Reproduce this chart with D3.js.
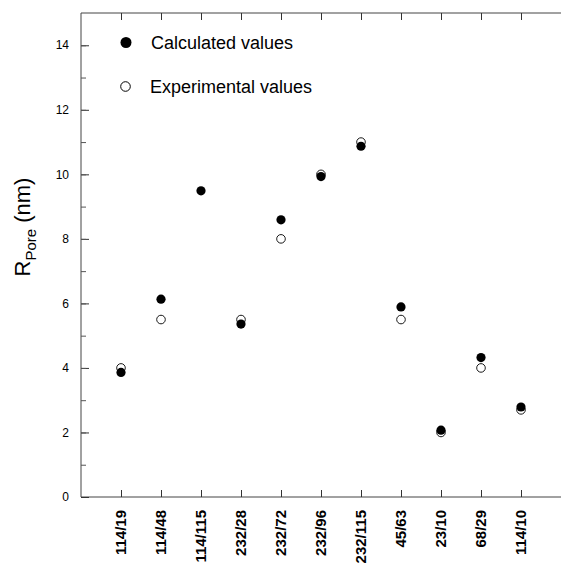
<!DOCTYPE html>
<html>
<head>
<meta charset="utf-8">
<script src="https://cdn.jsdelivr.net/npm/d3@7"></script>
<style>
  body { margin: 0; background: #fff; }
  text { font-family: "Liberation Sans", Arial, sans-serif; }
</style>
</head>
<body>
<div id="chart"></div>
<script>
// categories on the x axis
var categories = ["114/19", "114/48", "114/115", "232/28", "232/72", "232/96",
  "232/115", "45/63", "23/10", "68/29", "114/10"];
var calculated = [3.86, 6.13, 9.49, 5.36, 8.59, 9.93, 10.87, 5.89, 2.07, 4.32, 2.79];
var experimental = [4.0, 5.5, null, 5.5, 8.0, 10.0, 11.0, 5.5, 2.0, 4.0, 2.7];
var yTicks = [0, 2, 4, 6, 8, 10, 12, 14];

var margin = { top: 13, right: 1, bottom: 68, left: 81 },
  width = 562 - margin.left - margin.right,
  height = 565 - margin.top - margin.bottom;

var svg = d3
  .select("#chart")
  .append("svg")
  .attr("width", 562)
  .attr("height", 565)
  .append("g")
  .attr("transform", "translate(" + margin.left + "," + margin.top + ")");

// x: position index 1..11 on a 0..12 scale
var x = d3.scaleLinear().domain([0, 12]).range([0, 480]);
var y = d3.scaleLinear().domain([0, 15]).range([height, 0]);

// frame lines (left, bottom, top)
svg.append("line").attr("x1", 0).attr("x2", 0).attr("y1", 0).attr("y2", height)
  .attr("stroke", "#444").attr("stroke-width", 1);
svg.append("line").attr("x1", 0).attr("x2", width).attr("y1", height).attr("y2", height)
  .attr("stroke", "#444").attr("stroke-width", 1);
svg.append("line").attr("x1", 0).attr("x2", width).attr("y1", 0).attr("y2", 0)
  .attr("stroke", "#444").attr("stroke-width", 1);

// y axis: major ticks inside, minor every 0.5
var yAxis = svg.append("g")
  .call(d3.axisRight(y).tickValues(yTicks).tickSize(8).tickFormat(""));
yAxis.select(".domain").remove();
yAxis.selectAll("line").attr("stroke", "#333");

var yMinor = svg.append("g")
  .call(d3.axisRight(y).tickValues(d3.range(1, 15, 1)).tickSize(5).tickFormat(""));
yMinor.select(".domain").remove();
yMinor.selectAll("line").attr("stroke", "#555");

svg.selectAll(".ylab")
  .data(yTicks)
  .enter()
  .append("text")
  .attr("class", "ylab")
  .attr("x", -12)
  .attr("y", function (d) { return y(d); })
  .attr("dy", "0.35em")
  .attr("text-anchor", "end")
  .style("font-size", "12px")
  .text(function (d) { return d; });

// x ticks at bottom (pointing up) and top (pointing down)
var xpos = categories.map(function (d, i) { return i + 1; });

var xBottom = svg.append("g")
  .attr("transform", "translate(0," + height + ")")
  .call(d3.axisTop(x).tickValues(xpos).tickSize(7).tickFormat(""));
xBottom.select(".domain").remove();
xBottom.selectAll("line").attr("stroke", "#333");

var xTop = svg.append("g")
  .call(d3.axisBottom(x).tickValues(xpos).tickSize(7).tickFormat(""));
xTop.select(".domain").remove();
xTop.selectAll("line").attr("stroke", "#333");

// rotated category labels
svg.selectAll(".xlab")
  .data(categories)
  .enter()
  .append("text")
  .attr("class", "xlab")
  .attr("transform", function (d, i) {
    return "translate(" + x(i + 1) + "," + (height + 13) + ") rotate(-90)";
  })
  .attr("dy", "0.36em")
  .attr("text-anchor", "end")
  .style("font-size", "15px")
  .style("font-weight", "bold")
  .text(function (d) { return d; });

// y axis title
var title = svg.append("text")
  .attr("transform", "translate(-51," + (height / 2 - 28) + ") rotate(-90)")
  .attr("text-anchor", "middle")
  .style("font-size", "22px");
title.append("tspan").text("R");
title.append("tspan").attr("dy", "6").style("font-size", "15px").text("Pore");
title.append("tspan").attr("dy", "-6").text(" (nm)");

// experimental values (open circles)
svg.selectAll(".exp")
  .data(experimental.map(function (v, i) { return { i: i, v: v }; })
    .filter(function (d) { return d.v !== null; }))
  .enter()
  .append("circle")
  .attr("class", "exp")
  .attr("cx", function (d) { return x(d.i + 1); })
  .attr("cy", function (d) { return y(d.v); })
  .attr("r", 4.3)
  .attr("fill", "#fff")
  .attr("stroke", "#000")
  .attr("stroke-width", 0.9);

// calculated values (filled circles)
svg.selectAll(".calc")
  .data(calculated)
  .enter()
  .append("circle")
  .attr("class", "calc")
  .attr("cx", function (d, i) { return x(i + 1); })
  .attr("cy", function (d) { return y(d); })
  .attr("r", 4.6)
  .attr("fill", "#000");

// legend
var legend = svg.append("g");
legend.append("circle").attr("cx", 45).attr("cy", 29.5).attr("r", 5.5).attr("fill", "#000");
legend.append("text").attr("x", 70).attr("y", 29.5).attr("dy", "0.35em")
  .style("font-size", "18px").text("Calculated values");
legend.append("circle").attr("cx", 44.5).attr("cy", 73.5).attr("r", 4.8)
  .attr("fill", "#fff").attr("stroke", "#000").attr("stroke-width", 1);
legend.append("text").attr("x", 69).attr("y", 73.5).attr("dy", "0.35em")
  .style("font-size", "18px").text("Experimental values");
</script>
</body>
</html>
